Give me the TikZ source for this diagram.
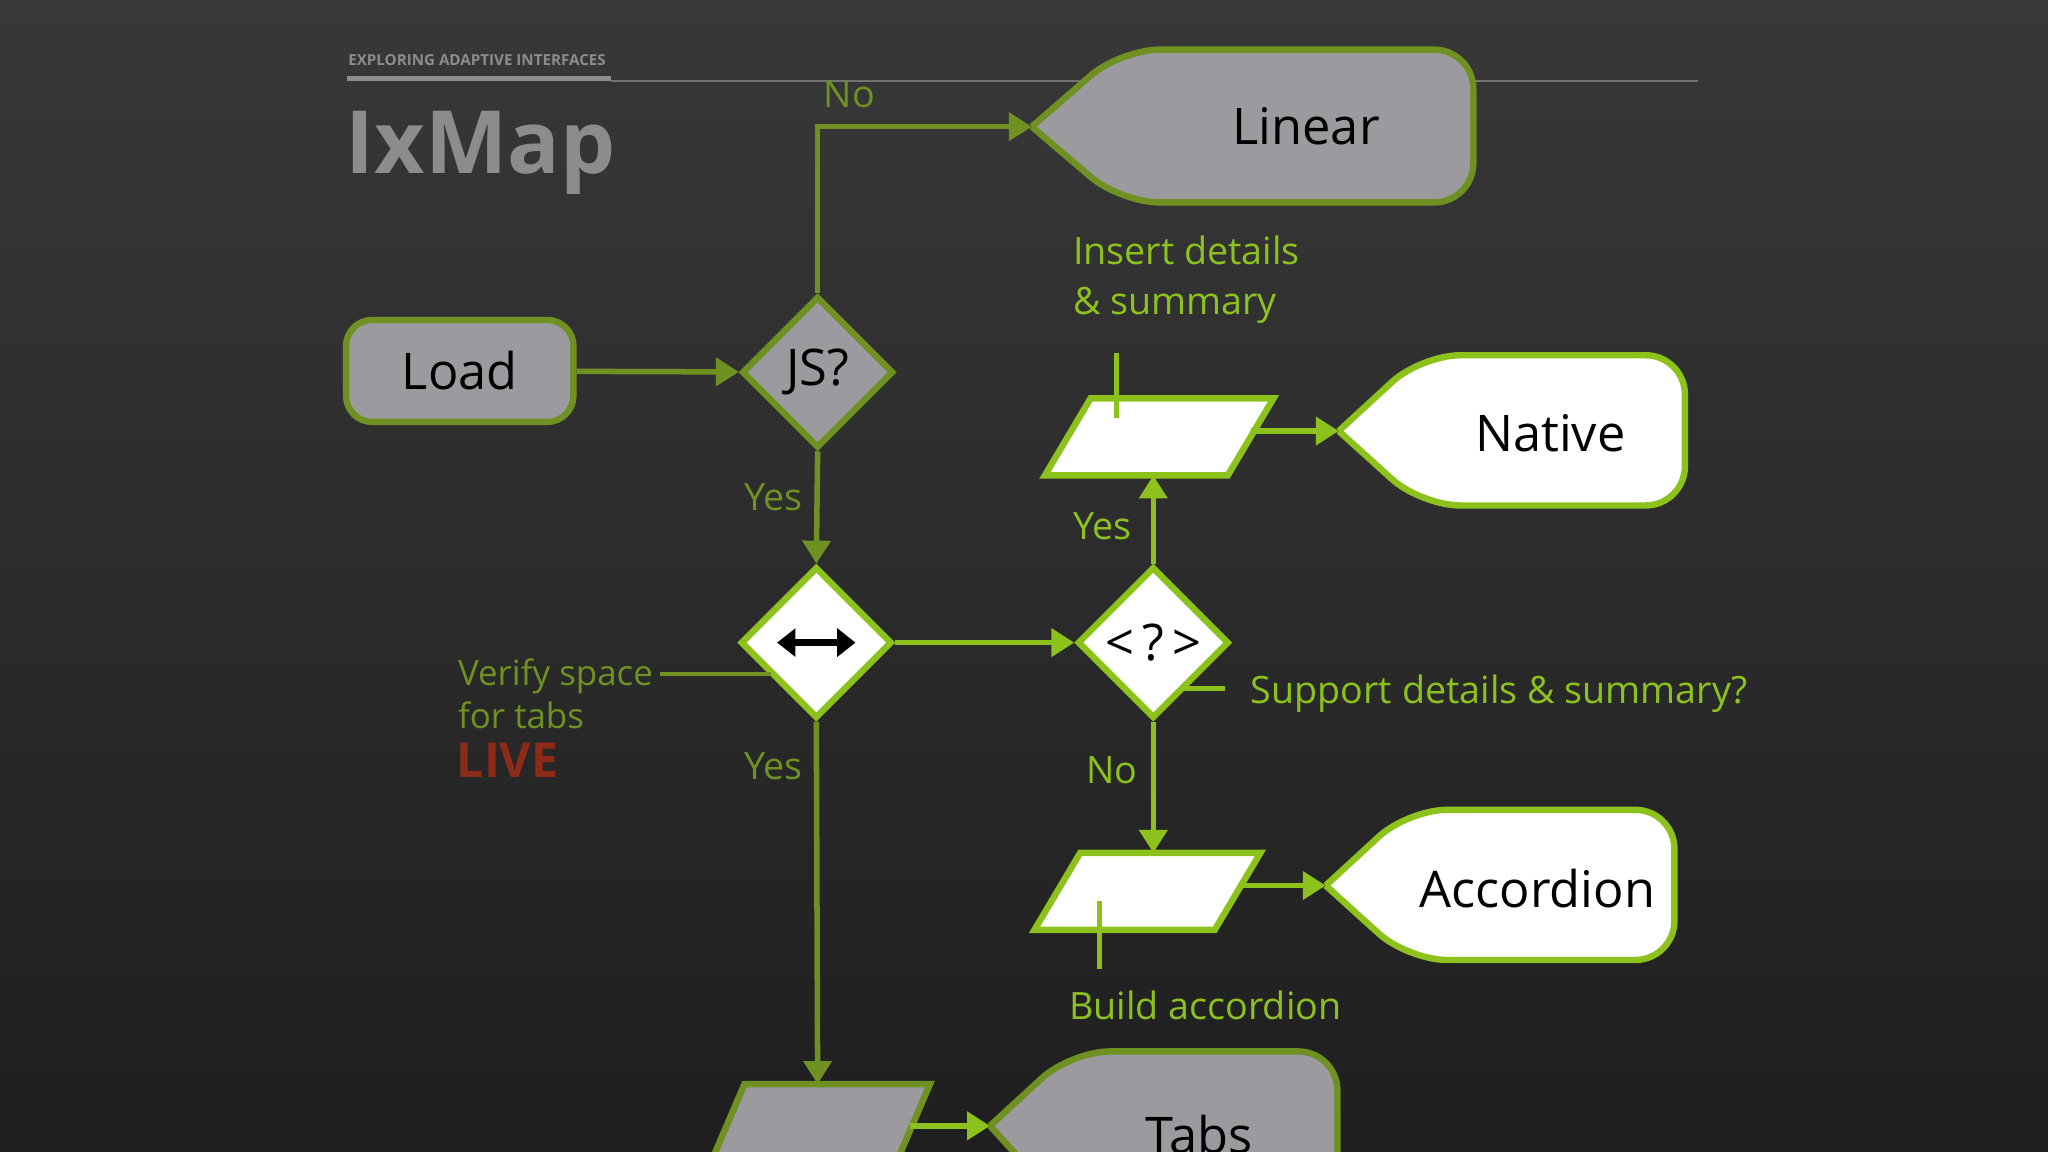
\documentclass[tikz,border=0pt]{standalone}
\usepackage{fontspec}
\setmainfont{Open Sans}
\usetikzlibrary{shapes.geometric,arrows.meta}
\definecolor{olive}{HTML}{6F9121}
\definecolor{lime}{HTML}{8CC21B}
\definecolor{boxgray}{HTML}{9B9B9F}
\definecolor{livered}{HTML}{8E2A18}
\tikzset{
 olv/.style={draw=olive,line width=1.4pt},
 lim/.style={draw=lime,line width=1.4pt},
 arr/.style={line width=1.2pt,-{Triangle[length=5pt,width=6pt]}},
 lbl/.style={font=\fontsize{8.2}{10.8}\selectfont,anchor=west,inner sep=0},
 big/.style={font=\fontsize{11}{13}\selectfont},
 dia/.style={diamond,minimum width=1.16cm,minimum height=1.16cm,inner sep=0},
 callout/.style={rounded corners=0.3cm,line join=round},
}
\begin{document}
\begin{tikzpicture}[x=0.01cm,y=-0.01cm]
\shade[top color=black!78,bottom color=black!88] (0,0) rectangle (1568,882);
\useasboundingbox (0,0) rectangle (1568,882);
\clip (0,0) rectangle (1568,882);
% header
\node[anchor=west,inner sep=0,text=black!45,font=\bfseries\fontsize{3.3}{4}\selectfont] (hdr) at (266,46) {EXPLORING ADAPTIVE INTERFACES};
\draw[black!55,line width=0.25pt] (468,62) -- (1300,62);
\draw[black!45,line width=1.1pt] (266,60) -- (468,60);
\node[anchor=west,inner sep=0,text=black!45,font=\bfseries\fontsize{19}{23}\selectfont] (title) at (264,117) {IxMap};
% Load
\node[olv,fill=boxgray,rounded corners=0.2cm,minimum width=1.74cm,minimum height=0.78cm,big] (load) at (352,284) {Load};
\node[dia,olv,fill=boxgray,big] (js) at (626,285) {JS?};
\node[dia,lim,fill=white] (sp) at (625,492) {};
\draw[black,line width=1.5pt,{Triangle[length=4pt,width=6pt]}-{Triangle[length=4pt,width=6pt]}] ([xshift=-0.3cm]sp.center) -- ([xshift=0.3cm]sp.center);
\node[dia,lim,fill=white,font=\fontsize{11}{13}\selectfont] (su) at (883,492) {<\,?\,>};
% Linear callout
\draw[olv,fill=boxgray,callout] (790,97) -- (858,38) -- (1128,38) -- (1128,155) -- (858,155) -- (790,97);
\node[big] (lin) at (1000,97) {Linear};
\coordinate (lint) at (790,97);
% Native
\draw[lim,fill=white,callout] (1025,330) -- (1088,272) -- (1290,272) -- (1290,387) -- (1088,387) -- (1025,330);
\node[big] (nat) at (1187,332) {Native};
\coordinate (natt) at (1025,330);
% Accordion
\draw[lim,fill=white,callout] (1015,678) -- (1078,620) -- (1282,620) -- (1282,735) -- (1078,735) -- (1015,678);
\node[big] (acc) at (1177,680) {Accordion};
\coordinate (acct) at (1015,678);
% Tabs
\draw[olv,fill=boxgray,callout] (758,862) -- (820,805) -- (1024,805) -- (1024,930) -- (820,930) -- (758,862);
\node[big,anchor=north] (tabs) at (918,841) {Tabs};
\coordinate (tabt) at (758,862);
% parallelograms
\draw[lim,fill=white] (800,364) -- (835,305) -- (975,305) -- (940,364) -- cycle;
\coordinate (p1b) at (883,364); \coordinate (p1r) at (958,330);
\draw[lim,fill=white] (792,712) -- (827,653) -- (965,653) -- (930,712) -- cycle;
\coordinate (p2t) at (883,653); \coordinate (p2r) at (948,678);
\draw[olv,fill=boxgray] (540,900) -- (570,830) -- (712,830) -- (682,900) -- cycle;
\coordinate (p3t) at (626,830); \coordinate (p3r) at (697,862);
% ticks
\draw[lim,line width=1pt] (855,270) -- (855,320);
\draw[lim,line width=1pt] (842,690) -- (842,742);
\draw[olive,line width=1pt] (505,516) -- (590,516);
\draw[lim,line width=1pt] (905,527) -- (938,527);
% connectors
\draw[olive,arr] (load) -- (js);
\draw[olive,arr] (js.north) |- (lint);
\draw[olive,arr] (js.south) -- (sp.north);
\draw[olive,arr] (sp.south) -- (p3t);
\draw[lime,arr] (p3r) -- (tabt);
\draw[lime,arr] (sp.east) -- (su.west);
\draw[lime,arr] (su.north) -- (p1b);
\draw[lime,arr] (su.south) -- (p2t);
\draw[lime,arr] (p1r) -- (natt);
\draw[lime,arr] (p2r) -- (acct);
% labels
\node[lbl,text=olive] (l1) at (630,72) {No};
\node[lbl,text=olive] (l2) at (569,381) {Yes};
\node[lbl,text=olive] (l3) at (569,587) {Yes};
\node[lbl,text=lime] (l4) at (821,403) {Yes};
\node[lbl,text=lime] (l5) at (831,590) {No};
\node[lbl,text=lime,align=left,anchor=north west] (l6) at (821,180) {Insert details\\\& summary};
\node[lbl,text=lime] (l7) at (957,531) {Support details \& summary?};
\node[lbl,text=lime] (l8) at (818,770) {Build accordion};
\node[lbl,text=olive,align=left,anchor=north west,font=\fontsize{7.6}{9.2}\selectfont] (l9) at (350,504) {Verify space\\for tabs};
\node[lbl,text=livered,font=\bfseries\fontsize{10.5}{12}\selectfont] (live) at (349,582) {LIVE};
\end{tikzpicture}
\end{document}
